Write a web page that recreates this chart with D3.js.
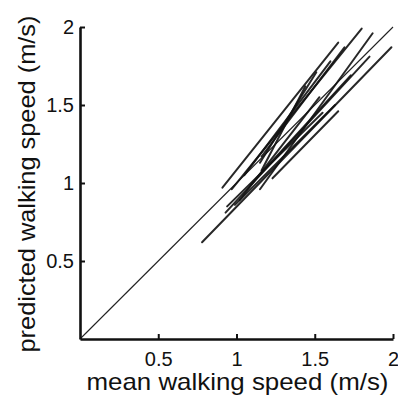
<!DOCTYPE html>
<html>
<head>
<meta charset="utf-8">
<script src="https://cdn.jsdelivr.net/npm/d3@7"></script>
<style>
  html, body { margin: 0; padding: 0; background: #fff; }
  svg { display: block; }
  text { font-family: "Liberation Sans", Arial, Helvetica, sans-serif; fill: #111; }
</style>
</head>
<body>
<svg id="chart" width="398" height="398"></svg>
<script>
// ---- data ----
const xTicks = [0.5, 1, 1.5, 2];
const yTicks = [0.5, 1, 1.5, 2];
const xTickLabels = ["0.5", "1", "1.5", "2"];
const yTickLabels = ["0.5", "1", "1.5", "2"];
const xTitle = "mean walking speed (m/s)";
const yTitle = "predicted walking speed (m/s)";
// per-subject regression segments (mean speed -> predicted speed)
const startX = [0.78, 0.91, 0.97, 1.15, 0.93, 1.16, 1.05, 1.23, 0.94, 1.02, 1.15, 0.99, 1.09, 1.16];
const startY = [0.62, 0.97, 0.96, 0.96, 0.81, 1.17, 1.05, 1.03, 0.85, 0.89, 1.13, 0.86, 0.99, 1.08];
const endX   = [1.99, 1.65, 1.80, 1.87, 1.85, 1.69, 1.60, 1.65, 1.55, 1.53, 1.51, 1.63, 1.73, 1.44];
const endY   = [1.87, 1.90, 1.99, 1.96, 1.81, 1.87, 1.78, 1.46, 1.45, 1.55, 1.71, 1.50, 1.69, 1.62];
const identity = [0, 2];

// ---- layout ----
const svg = d3.select("#chart");
const x = d3.scaleLinear().domain([0, 2]).range([80, 393]);
const y = d3.scaleLinear().domain([0, 2]).range([339, 27]);

// identity line
svg.append("line")
  .attr("x1", x(identity[0])).attr("y1", y(identity[0]))
  .attr("x2", x(identity[1])).attr("y2", y(identity[1]))
  .attr("stroke", "#222").attr("stroke-width", 1.1);

// segments
svg.append("g").selectAll("line")
  .data(d3.range(startX.length))
  .join("line")
  .attr("x1", i => x(startX[i])).attr("y1", i => y(startY[i]))
  .attr("x2", i => x(endX[i])).attr("y2", i => y(endY[i]))
  .attr("stroke", "#111").attr("stroke-width", 2)
  .attr("stroke-opacity", 0.9).attr("stroke-linecap", "round");

// axes
const xAxis = d3.axisBottom(x).tickValues(xTicks)
  .tickFormat((d, i) => xTickLabels[i]).tickSizeInner(-5).tickSizeOuter(0).tickPadding(13);
const yAxis = d3.axisLeft(y).tickValues(yTicks)
  .tickFormat((d, i) => yTickLabels[i]).tickSizeInner(-5).tickSizeOuter(0).tickPadding(6);

const gx = svg.append("g").attr("transform", `translate(0,${y(0)})`).call(xAxis);
const gy = svg.append("g").attr("transform", `translate(${x(0)},0)`).call(yAxis);
[gx, gy].forEach(g => {
  g.select(".domain").attr("stroke", "#111").attr("stroke-width", 2.6);
  g.selectAll(".tick line").attr("stroke", "#111").attr("stroke-width", 2);
  g.selectAll(".tick text").attr("font-size", 20).attr("fill", "#111")
    .attr("font-family", "'Liberation Sans', Arial, sans-serif");
});

// titles
svg.append("text")
  .attr("x", (x(0) + x(2)) / 2 + 1).attr("y", 390)
  .attr("text-anchor", "middle").attr("font-size", 24)
  .attr("textLength", 302).attr("lengthAdjust", "spacingAndGlyphs")
  .text(xTitle);
svg.append("text")
  .attr("transform", `translate(35,${(y(0) + y(2)) / 2 + 1}) rotate(-90)`)
  .attr("text-anchor", "middle").attr("font-size", 24)
  .attr("textLength", 337).attr("lengthAdjust", "spacingAndGlyphs")
  .text(yTitle);
</script>
</body>
</html>
